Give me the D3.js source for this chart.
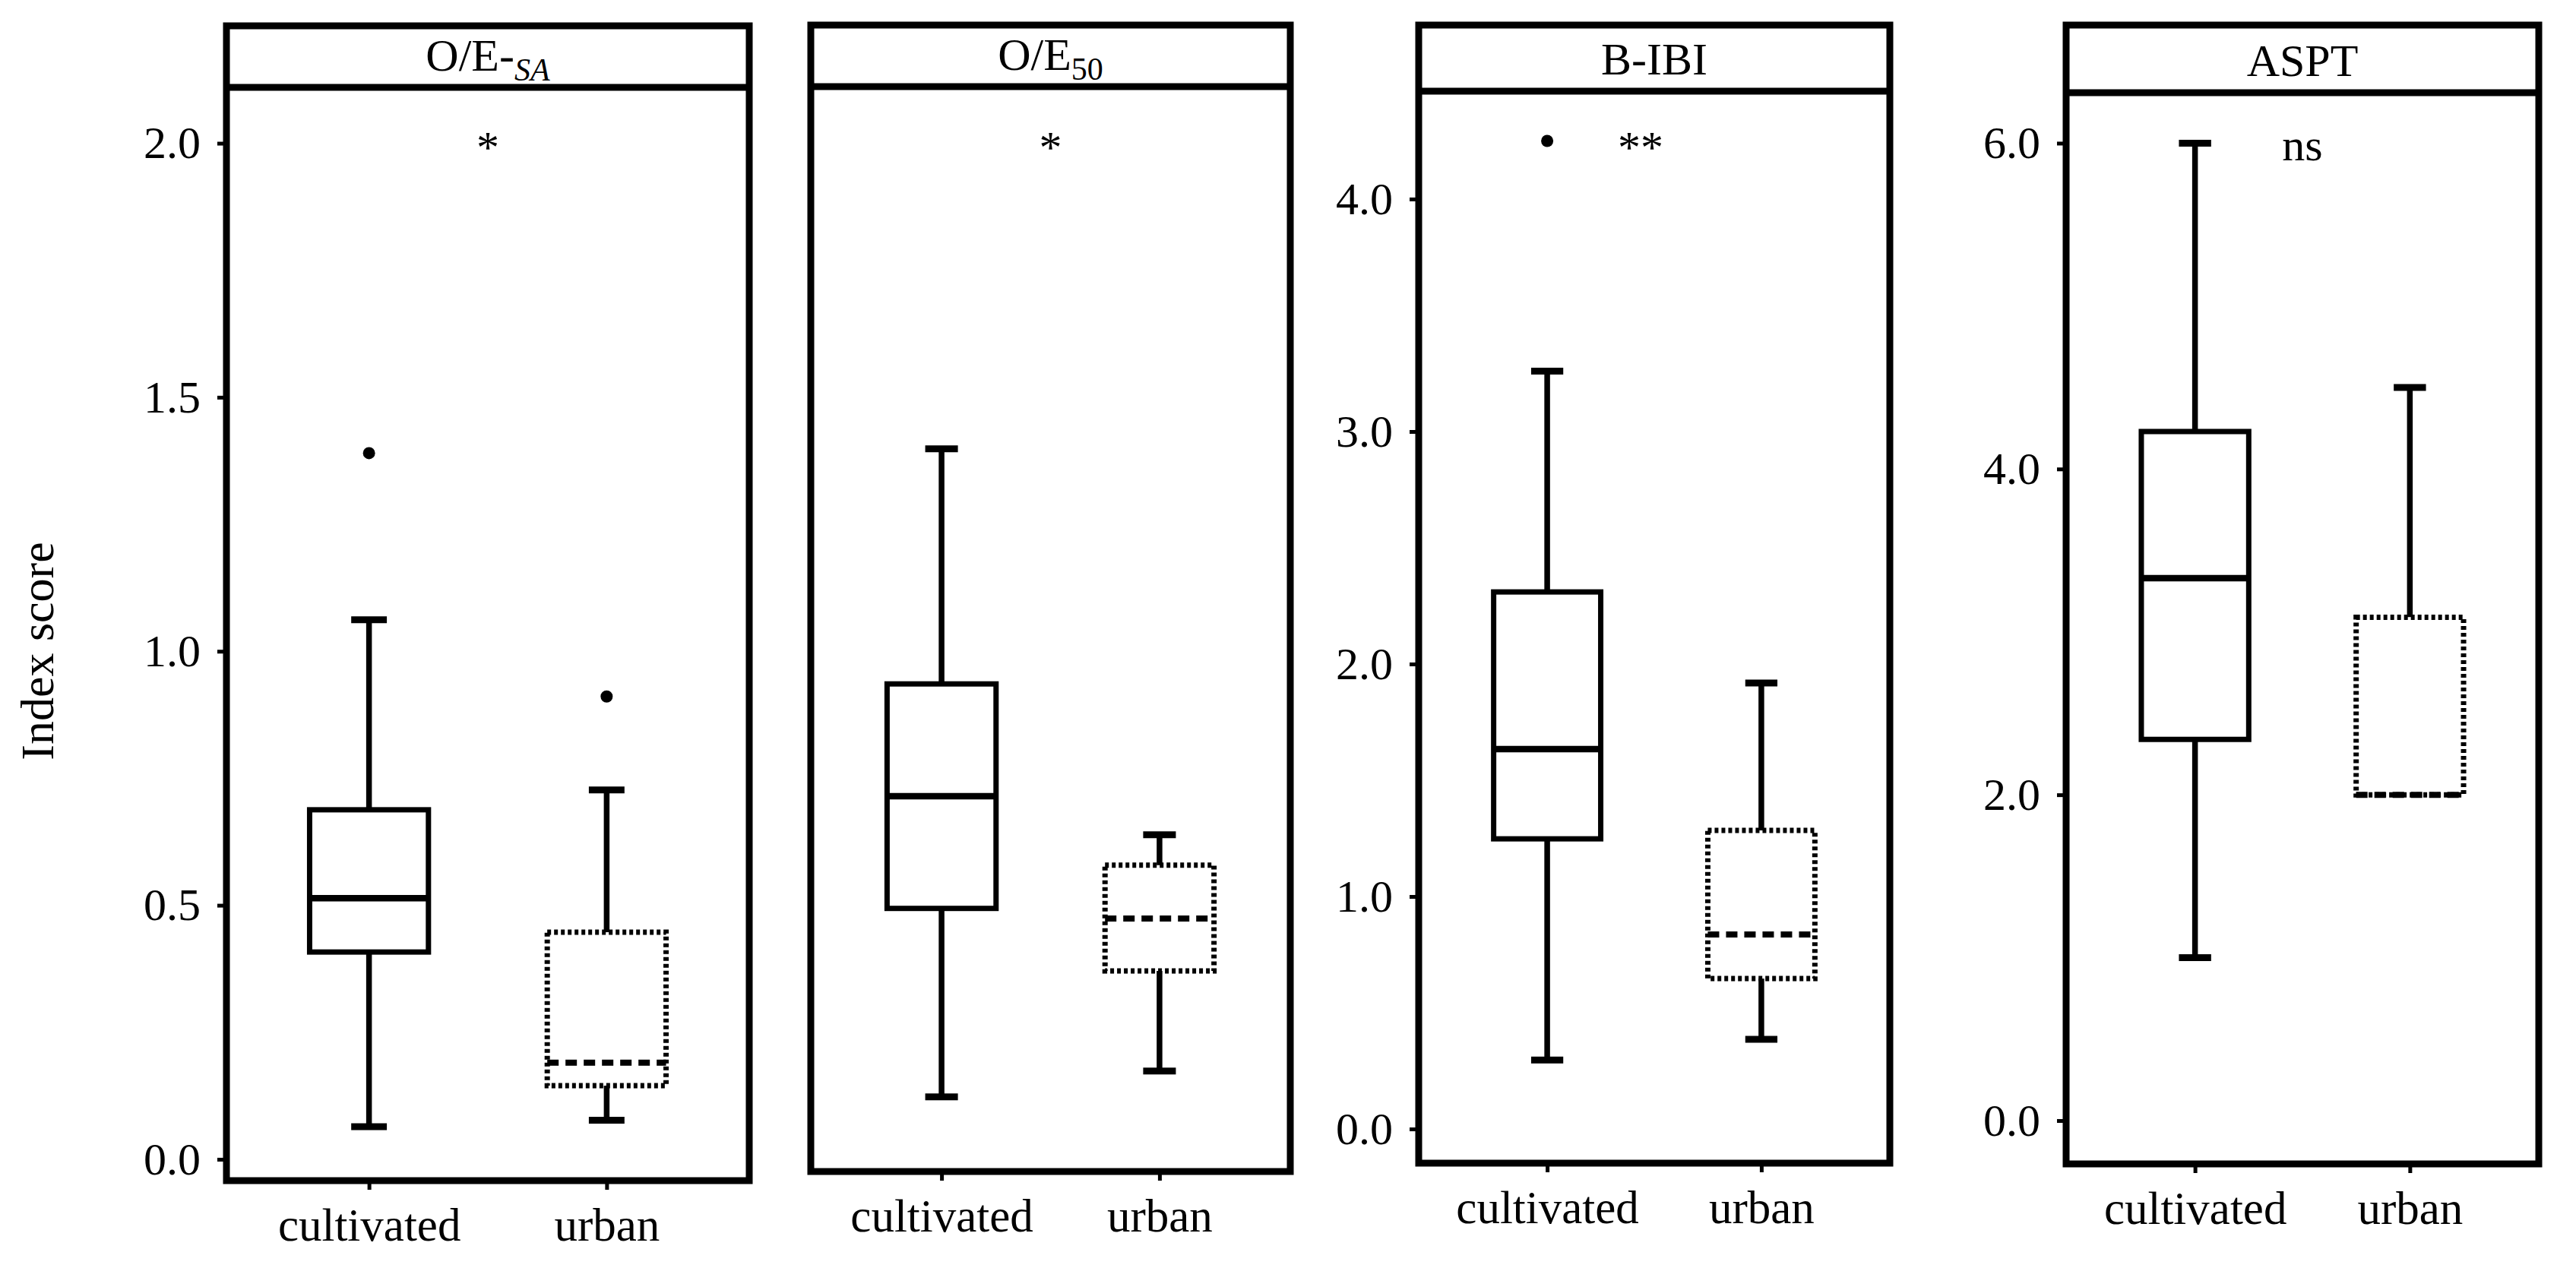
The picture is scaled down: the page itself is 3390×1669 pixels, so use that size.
<!DOCTYPE html>
<html>
<head>
<meta charset="utf-8">
<script src="https://cdnjs.cloudflare.com/ajax/libs/d3/7.8.5/d3.min.js"></script>
<style>
  body { margin: 0; background: #fff; }
  text { font-family: "Liberation Serif", "Times New Roman", serif; fill: #000; }
</style>
</head>
<body>
<div id="chart"></div>
<script>
// data
var categories = ["cultivated", "urban"];
var indexNames = ["O/E-SA", "O/E50", "B-IBI", "ASPT"];
// [lower whisker, q1, median, q3, upper whisker]
var cultivatedStats = [
  [0.064, 0.408, 0.514, 0.688, 1.062],
  [0.123, 0.494, 0.715, 0.936, 1.399],
  [0.297, 1.248, 1.634, 2.310, 3.260],
  [1.000, 2.340, 3.330, 4.230, 6.000]
];
var urbanStats = [
  [0.077, 0.145, 0.190, 0.447, 0.727],
  [0.174, 0.371, 0.474, 0.579, 0.639],
  [0.386, 0.647, 0.837, 1.284, 1.918],
  [2.000, 2.000, 2.000, 3.090, 4.500]
];
var cultivatedOutliers = [[1.39], [], [4.25], []];
var urbanOutliers = [[0.911], [], [], []];
var significance = ["*", "*", "**", "ns"];
var yTicks = [[0, 0.5, 1.0, 1.5, 2.0], [], [0, 1, 2, 3, 4], [0, 2, 4, 6]];
var yDomains = [[-0.042, 2.11], [-0.024, 2.112], [-0.147, 4.464], [-0.266, 6.31]];

// panel frames
var layout = [
  { left: 298, right: 986, top: 34, strip: 115, bottom: 1554, sigDx: 0 },
  { left: 1067, right: 1698, top: 33, strip: 114, bottom: 1542, sigDx: 0 },
  { left: 1867, right: 2487, top: 33, strip: 120, bottom: 1531, sigDx: -18 },
  { left: 2719, right: 3341, top: 33, strip: 122, bottom: 1532, sigDx: 0 }
];

var width = 3390, height = 1669;
var svg = d3.select('#chart')
  .append('svg')
  .attr('width', width)
  .attr('height', height);

var frameWidth = 9;

function drawPanel(p) {
  var L = layout[p];
  var g = svg.append('g');

  var x = d3.scalePoint()
    .domain(categories)
    .range([L.left, L.right])
    .padding(0.6);
  var step = x.step();

  var y = d3.scaleLinear()
    .domain(yDomains[p])
    .range([L.bottom, L.strip]);

  // y axis
  if (yTicks[p].length) {
    var ya = g.append('g')
      .attr('transform', 'translate(' + L.left + ',0)')
      .call(d3.axisLeft(y).tickValues(yTicks[p]).tickFormat(d3.format('.1f')).tickSize(12).tickPadding(22));
    ya.select('.domain').remove();
    ya.selectAll('line').attr('stroke', '#000').attr('stroke-width', 5);
    ya.selectAll('text').style('font-size', '60px').style('font-family', '"Liberation Serif", serif');
  }

  // x axis
  var xa = g.append('g')
    .attr('transform', 'translate(0,' + L.bottom + ')')
    .call(d3.axisBottom(x).tickSize(12).tickPadding(24));
  xa.select('.domain').remove();
  xa.selectAll('line').attr('stroke', '#000').attr('stroke-width', 5);
  xa.selectAll('text').style('font-size', '61px').style('font-family', '"Liberation Serif", serif');

  var groups = [
    { cat: categories[0], s: cultivatedStats[p], out: cultivatedOutliers[p], boxDash: null, medDash: null, medW: 8.5 },
    { cat: categories[1], s: urbanStats[p], out: urbanOutliers[p], boxDash: '5,4', medDash: '15,9', medW: 8 }
  ];

  var boxW = step * 0.5, capW = step * 0.15;

  groups.forEach(function(d) {
    var cx = x(d.cat);
    var s = d.s;
    // whiskers
    if (s[4] > s[3]) {
      g.append('line').attr('x1', cx).attr('x2', cx).attr('y1', y(s[3])).attr('y2', y(s[4]))
        .attr('stroke', '#000').attr('stroke-width', 7.5);
      g.append('line').attr('x1', cx - capW / 2).attr('x2', cx + capW / 2).attr('y1', y(s[4])).attr('y2', y(s[4]))
        .attr('stroke', '#000').attr('stroke-width', 9);
    }
    if (s[0] < s[1]) {
      g.append('line').attr('x1', cx).attr('x2', cx).attr('y1', y(s[1])).attr('y2', y(s[0]))
        .attr('stroke', '#000').attr('stroke-width', 7.5);
      g.append('line').attr('x1', cx - capW / 2).attr('x2', cx + capW / 2).attr('y1', y(s[0])).attr('y2', y(s[0]))
        .attr('stroke', '#000').attr('stroke-width', 9);
    }
    // box
    g.append('rect')
      .attr('x', cx - boxW / 2)
      .attr('y', y(s[3]))
      .attr('width', boxW)
      .attr('height', y(s[1]) - y(s[3]))
      .attr('fill', '#fff')
      .attr('stroke', '#000')
      .attr('stroke-width', 7)
      .attr('stroke-dasharray', d.boxDash);
    // median
    g.append('line')
      .attr('x1', cx - boxW / 2).attr('x2', cx + boxW / 2)
      .attr('y1', y(s[2])).attr('y2', y(s[2]))
      .attr('stroke', '#000')
      .attr('stroke-width', d.medW)
      .attr('stroke-dasharray', d.medDash);
    // outliers
    g.selectAll(null)
      .data(d.out)
      .enter()
      .append('circle')
      .attr('cx', cx)
      .attr('cy', function(v) { return y(v); })
      .attr('r', 8)
      .attr('fill', '#000');
  });

  // significance
  var cxMid = (L.left + L.right) / 2 + L.sigDx;
  g.append('text')
    .attr('x', cxMid)
    .attr('y', significance[p] === 'ns' ? 211 : 214)
    .attr('text-anchor', 'middle')
    .style('font-size', significance[p] === 'ns' ? '60px' : '60px')
    .text(significance[p]);

  // panel frame and strip
  g.append('rect')
    .attr('x', L.left).attr('y', L.top)
    .attr('width', L.right - L.left).attr('height', L.bottom - L.top)
    .attr('fill', 'none').attr('stroke', '#000').attr('stroke-width', frameWidth);
  g.append('line')
    .attr('x1', L.left).attr('x2', L.right)
    .attr('y1', L.strip).attr('y2', L.strip)
    .attr('stroke', '#000').attr('stroke-width', frameWidth);

  var title = g.append('text')
    .attr('x', (L.left + L.right) / 2)
    .attr('y', L.strip - 22)
    .attr('text-anchor', 'middle')
    .style('font-size', '60px');
  var name = indexNames[p];
  if (name === 'O/E-SA') {
    title.append('tspan').text('O/E-');
    title.append('tspan').attr('dy', 13).style('font-size', '42px').style('font-style', 'italic').text('SA');
  } else if (name === 'O/E50') {
    title.append('tspan').text('O/E');
    title.append('tspan').attr('dy', 13).style('font-size', '42px').text('50');
  } else {
    title.text(name);
  }
}

for (var i = 0; i < indexNames.length; i++) {
  drawPanel(i);
}

// y axis title
svg.append('text')
  .attr('transform', 'translate(70,857) rotate(-90)')
  .attr('text-anchor', 'middle')
  .style('font-size', '62px')
  .text('Index score');
</script>
</body>
</html>
